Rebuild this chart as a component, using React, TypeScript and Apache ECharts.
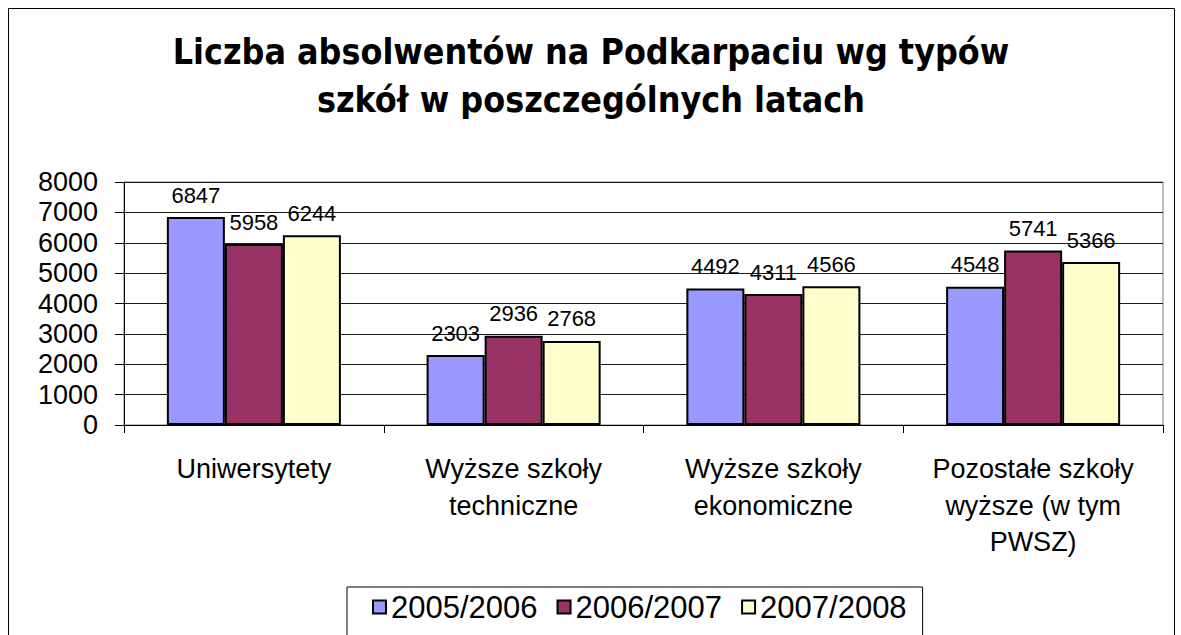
import React, { useEffect, useRef } from "react";
import * as echarts from "echarts";

const titleLines = ["Liczba absolwentów na Podkarpaciu wg typów", "szkół w poszczególnych latach"];
const categories = [
  "Uniwersytety",
  "Wyższe szkoły\ntechniczne",
  "Wyższe szkoły\nekonomiczne",
  "Pozostałe szkoły\nwyższe (w tym\nPWSZ)",
];
const seriesNames = ["2005/2006", "2006/2007", "2007/2008"];
const values2005 = [6847, 2303, 4492, 4548];
const values2006 = [5958, 2936, 4311, 5741];
const values2007 = [6244, 2768, 4566, 5366];
const colors = ["#9999FF", "#993366", "#FFFFCC"];
const yMin = 0;
const yMax = 8000;
const yInterval = 1000;

export default function App() {
  const ref = useRef<HTMLDivElement>(null);
  useEffect(() => {
    if (!ref.current) return;
    const chart = echarts.init(ref.current, null, { renderer: "svg" });
    const seriesData = [values2005, values2006, values2007];
    const font = "'Liberation Sans', Arial, sans-serif";
    chart.setOption({
      animation: false,
      backgroundColor: "#ffffff",
      graphic: [
        {
          type: "rect",
          shape: { x: 8.5, y: 8.5, width: 1166, height: 700 },
          style: { fill: "none", stroke: "#000", lineWidth: 1 },
          silent: true,
        },
        {
          type: "text",
          x: 591,
          y: 27,
          silent: true,
          style: {
            text: titleLines.join("\n"),
            align: "center",
            verticalAlign: "top",
            fontFamily: "'DejaVu Sans Condensed', 'DejaVu Sans', sans-serif",
            fontWeight: "bold",
            fontSize: 35.5,
            lineHeight: 48,
            fill: "#000",
          },
        },
      ],
      legend: {
        left: 347,
        top: 587,
        padding: [4, 16, 60, 25],
        itemGap: 19,
        itemWidth: 13,
        itemHeight: 13,
        borderColor: "#000",
        borderWidth: 1,
        icon: "rect",
        data: seriesNames,
        textStyle: { fontFamily: font, fontSize: 31, lineHeight: 32, color: "#000" },
      },
      grid: {
        left: 124,
        right: 18,
        top: 182,
        bottom: 210,
        show: true,
        borderColor: "#808080",
        borderWidth: 1,
      },
      xAxis: {
        type: "category",
        data: categories,
        axisLine: { show: true, lineStyle: { color: "#000", width: 1 } },
        axisTick: { show: true, length: 8, lineStyle: { color: "#000" } },
        axisLabel: {
          interval: 0,
          margin: 26,
          fontFamily: font,
          fontSize: 27,
          lineHeight: 36.5,
          color: "#000",
          align: "center",
        },
      },
      yAxis: {
        type: "value",
        min: yMin,
        max: yMax,
        interval: yInterval,
        axisLine: { show: true, lineStyle: { color: "#000", width: 1 } },
        axisTick: { show: true, length: 9, lineStyle: { color: "#000" } },
        splitLine: { show: true, lineStyle: { color: "#1a1a1a", width: 1 } },
        axisLabel: {
          margin: 26,
          fontFamily: font,
          fontSize: 27,
          color: "#000",
          formatter: (v: number) => String(v),
        },
      },
      series: seriesNames.map((name, i) => ({
        name,
        type: "bar",
        data: seriesData[i],
        barGap: "0%",
        barCategoryGap: "33%",
        itemStyle: { color: colors[i], borderColor: "#000", borderWidth: 2 },
        label: {
          show: true,
          position: "top",
          distance: 11,
          fontFamily: font,
          fontSize: 22,
          color: "#000",
        },
      })),
    });
    return () => chart.dispose();
  }, []);
  return (
    <div
      ref={ref}
      style={{ position: "absolute", left: 0, top: 0, width: 1181, height: 635 }}
    />
  );
}
